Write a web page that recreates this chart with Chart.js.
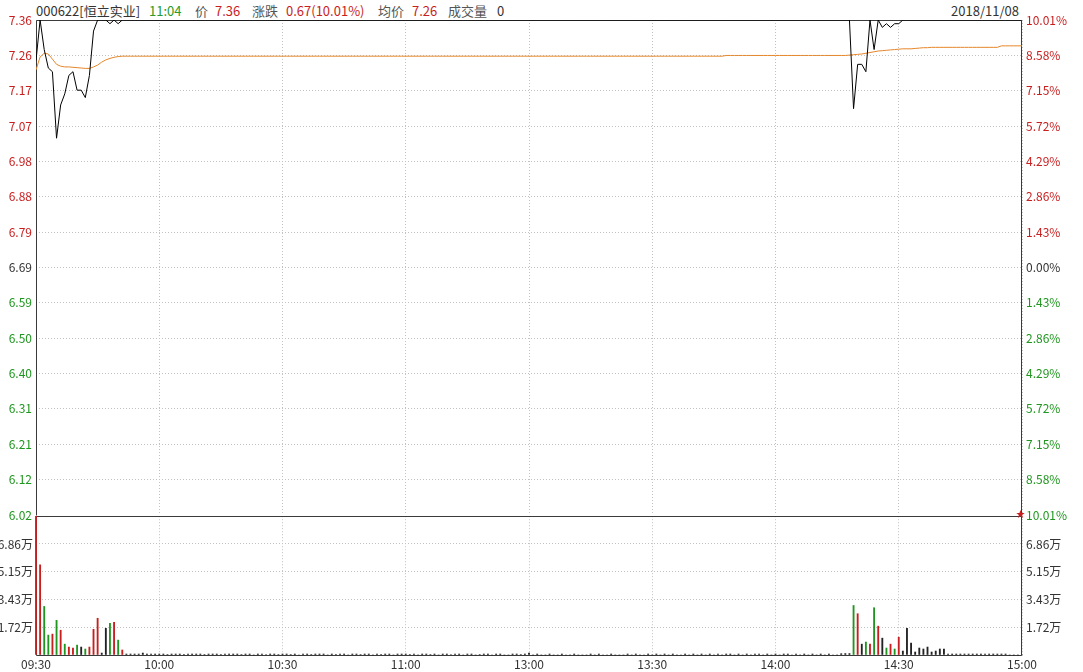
<!DOCTYPE html>
<html><head><meta charset="utf-8">
<script src="https://cdn.jsdelivr.net/npm/chart.js@4.4.1/dist/chart.umd.min.js"></script>
<style>
html,body{margin:0;padding:0;background:#fff;width:1083px;height:672px;overflow:hidden;position:relative;font-family:'Noto Sans CJK SC','Noto Sans',sans-serif;}
#c1{position:absolute;left:0;top:0;}
#c2{position:absolute;left:0;top:505px;}
.h{position:absolute;top:2px;font-size:13px;line-height:17px;white-space:nowrap;}
.star{position:absolute;left:1016px;top:508px;font-size:9px;line-height:12px;color:#c81e1e;}
</style></head><body>
<div class="h" style="left:36px;color:#333">000622[恒立实业]</div>
<div class="h" style="left:149px;color:#2a9a2a">11:04</div>
<div class="h" style="left:195px;color:#555">价</div>
<div class="h" style="left:215px;color:#c81e1e">7.36</div>
<div class="h" style="left:252px;color:#555">涨跌</div>
<div class="h" style="left:286px;color:#c81e1e">0.67(10.01%)</div>
<div class="h" style="left:378px;color:#555">均价</div>
<div class="h" style="left:412px;color:#c81e1e">7.26</div>
<div class="h" style="left:448px;color:#555">成交量</div>
<div class="h" style="left:497px;color:#333">0</div>
<div class="h" style="right:64px;color:#333">2018/11/08</div>
<canvas id="c1" width="1083" height="530"></canvas>
<canvas id="c2" width="1083" height="167"></canvas>
<div class="star">★</div>
<script>
const timeLabels = ['09:30','10:00','10:30','11:00','13:00','13:30','14:00','14:30','15:00'];
const priceLabels = ['7.36','7.26','7.17','7.07','6.98','6.88','6.79','6.69','6.59','6.50','6.40','6.31','6.21','6.12','6.02'];
const pctLabels = ['10.01%','8.58%','7.15%','5.72%','4.29%','2.86%','1.43%','0.00%','1.43%','2.86%','4.29%','5.72%','7.15%','8.58%','10.01%'];
const volLabels = ['1.72万','3.43万','5.15万','6.86万'];
const limitUp = 7.36, limitDown = 6.02, volMax = 85750;

const price = [
7.25,7.36,7.28,7.23,7.22,7.04,7.13,7.16,7.21,7.22,
7.17,7.17,7.15,7.21,7.33,7.36,7.36,7.36,7.35,7.36,
7.35,7.36,7.36,7.36,7.36,7.36,7.36,7.36,7.36,7.36,
7.36,7.36,7.36,7.36,7.36,7.36,7.36,7.36,7.36,7.36,
7.36,7.36,7.36,7.36,7.36,7.36,7.36,7.36,7.36,7.36,
7.36,7.36,7.36,7.36,7.36,7.36,7.36,7.36,7.36,7.36,
7.36,7.36,7.36,7.36,7.36,7.36,7.36,7.36,7.36,7.36,
7.36,7.36,7.36,7.36,7.36,7.36,7.36,7.36,7.36,7.36,
7.36,7.36,7.36,7.36,7.36,7.36,7.36,7.36,7.36,7.36,
7.36,7.36,7.36,7.36,7.36,7.36,7.36,7.36,7.36,7.36,
7.36,7.36,7.36,7.36,7.36,7.36,7.36,7.36,7.36,7.36,
7.36,7.36,7.36,7.36,7.36,7.36,7.36,7.36,7.36,7.36,
7.36,7.36,7.36,7.36,7.36,7.36,7.36,7.36,7.36,7.36,
7.36,7.36,7.36,7.36,7.36,7.36,7.36,7.36,7.36,7.36,
7.36,7.36,7.36,7.36,7.36,7.36,7.36,7.36,7.36,7.36,
7.36,7.36,7.36,7.36,7.36,7.36,7.36,7.36,7.36,7.36,
7.36,7.36,7.36,7.36,7.36,7.36,7.36,7.36,7.36,7.36,
7.36,7.36,7.36,7.36,7.36,7.36,7.36,7.36,7.36,7.36,
7.36,7.36,7.36,7.36,7.36,7.36,7.36,7.36,7.36,7.36,
7.36,7.36,7.36,7.36,7.36,7.36,7.36,7.36,7.36,7.12,
7.24,7.24,7.22,7.36,7.28,7.36,7.34,7.35,7.34,7.35,
7.35,7.36,7.36,7.36,7.36,7.36,7.36,7.36,7.36,7.36,
7.36,7.36,7.36,7.36,7.36,7.36,7.36,7.36,7.36,7.36,
7.36,7.36,7.36,7.36,7.36,7.36,7.36,7.36,7.36,7.36,
7.36
];

const avgPrice = [
7.225,7.260,7.270,7.268,7.254,7.240,7.235,7.233,7.233,7.232,
7.231,7.230,7.229,7.229,7.233,7.238,7.246,7.252,7.256,7.259,
7.261,7.262,7.262,7.262,7.262,7.262,7.262,7.262,7.262,7.262,
7.262,7.262,7.262,7.262,7.262,7.262,7.262,7.262,7.262,7.262,
7.262,7.262,7.262,7.262,7.262,7.262,7.262,7.262,7.262,7.262,
7.262,7.262,7.262,7.262,7.262,7.262,7.262,7.262,7.262,7.262,
7.262,7.262,7.262,7.262,7.262,7.262,7.262,7.262,7.262,7.262,
7.262,7.262,7.262,7.262,7.262,7.262,7.262,7.262,7.262,7.262,
7.262,7.262,7.262,7.262,7.262,7.262,7.262,7.262,7.262,7.262,
7.262,7.262,7.262,7.262,7.262,7.262,7.262,7.262,7.262,7.262,
7.262,7.262,7.262,7.262,7.262,7.262,7.262,7.262,7.262,7.262,
7.262,7.262,7.262,7.262,7.262,7.262,7.262,7.262,7.262,7.262,
7.262,7.262,7.262,7.262,7.262,7.262,7.262,7.262,7.262,7.262,
7.262,7.262,7.262,7.262,7.262,7.262,7.262,7.262,7.262,7.262,
7.262,7.262,7.262,7.262,7.262,7.262,7.262,7.262,7.262,7.262,
7.262,7.262,7.262,7.262,7.262,7.262,7.262,7.262,7.262,7.262,
7.262,7.262,7.262,7.262,7.262,7.262,7.262,7.262,7.264,7.264,
7.264,7.264,7.264,7.264,7.264,7.264,7.264,7.264,7.264,7.264,
7.264,7.264,7.264,7.264,7.264,7.264,7.264,7.264,7.264,7.264,
7.264,7.264,7.264,7.264,7.264,7.264,7.264,7.264,7.265,7.266,
7.267,7.268,7.270,7.272,7.274,7.276,7.277,7.278,7.279,7.280,
7.281,7.282,7.282,7.282,7.283,7.284,7.285,7.285,7.286,7.286,
7.286,7.286,7.286,7.286,7.286,7.286,7.286,7.286,7.286,7.286,
7.286,7.286,7.286,7.286,7.286,7.290,7.290,7.290,7.290,7.290,
7.290
];

const volume = [
85700,55700,30000,12300,12900,21400,15300,6700,4900,4300,
6100,4900,3700,4900,15900,22700,1200,16500,19600,20200,
9200,3100,600,600,600,600,1200,600,600,600,
600,600,300,600,600,600,300,600,600,600,
600,300,600,600,600,300,600,600,600,600,
300,600,600,0,600,600,300,600,600,300,
600,600,300,600,0,600,600,300,600,600,
600,0,600,300,600,600,0,600,600,300,
600,600,0,600,300,600,600,0,600,600,
600,300,600,0,600,600,300,600,0,600,
600,300,600,600,0,600,600,0,300,600,
600,0,600,600,0,0,600,600,300,600,
1200,0,600,0,0,600,0,0,600,0,
0,600,0,0,0,600,0,600,0,0,
600,0,0,0,600,0,600,0,0,600,
0,600,0,600,0,600,0,0,600,0,
600,0,600,0,600,0,600,0,600,600,
0,600,0,600,0,600,600,0,600,0,
600,0,600,600,0,600,0,600,0,600,
0,600,0,600,0,0,800,900,900,30600,
25500,6700,8000,6700,29200,17800,10400,4300,6700,3700,
11000,2450,16500,7350,1850,4300,3700,4900,1850,2450,
3700,3700,600,600,600,600,600,600,600,600,
600,600,600,600,600,600,600,0,0,0,
0
];
const volUp = [0,1,4,6,8,9,13,14,15,19,21,200,203,205,208,210];
const volDown = [2,3,5,7,10,12,18,20,199,202,204,207,209];

const FONT = {family:"'Noto Sans CJK SC','Noto Sans',sans-serif", size:12};
const RED = '#c81e1e', GREEN = '#1f961f', DARK = '#333333', GRID = '#c2c2c2';
const nT = priceLabels.length;
const mid = (nT - 1) / 2;
const tickVals = priceLabels.map((_, i) => limitDown + (limitUp - limitDown) * i / (nT - 1));
const tickColor = i => { const k = nT - 1 - i; return k < mid ? RED : (k === mid ? DARK : GREEN); };

function makeFrame(drawBottom){
  return {id:'frame', beforeDatasetsDraw(c){
    const a = c.chartArea, ctx = c.ctx;
    const l = Math.round(a.left)+0.5, r = Math.round(a.right)-0.5, t = Math.round(a.top)+0.5, b = Math.round(a.bottom)+0.5;
    ctx.save(); ctx.strokeStyle = '#3a3a3a'; ctx.lineWidth = 1;
    ctx.beginPath();
    if (drawBottom) { ctx.moveTo(l, b); ctx.lineTo(l, t); ctx.lineTo(r, t); ctx.lineTo(r, b); ctx.closePath(); }
    else { ctx.moveTo(l, b); ctx.lineTo(l, t); ctx.lineTo(r, t); ctx.lineTo(r, b); }
    ctx.stroke();
    ctx.restore();
  }};
}

function xScale(show){
  return {type:'linear', min:0, max:240, offset:false,
    afterBuildTicks:s => { s.ticks = timeLabels.map((t,i) => ({value:i*30})); },
    ticks:{display:show, autoSkip:false, maxRotation:0, padding:2, color:DARK, font:FONT, callback:(v,i) => timeLabels[i]},
    grid:{color:GRID, drawTicks:false, offset:false}, border:{display:false, dash:[1,2]},
    afterFit:s => { s.height = show ? 17 : 0; }};
}

const xy = arr => arr.map((v,i) => ({x:i, y:v}));

new Chart(document.getElementById('c1'), {
  type:'line',
  data:{datasets:[
    {data:xy(price), borderColor:'#000', borderWidth:1, pointRadius:0, tension:0, yAxisID:'y'},
    {data:xy(avgPrice), borderColor:'#e5862a', borderWidth:1, pointRadius:0, tension:0, yAxisID:'y'}
  ]},
  options:{responsive:false, animation:false, events:[],
    layout:{padding:{top:20, bottom:15, left:0, right:0}},
    plugins:{legend:{display:false}, tooltip:{enabled:false}},
    scales:{
      x:xScale(false),
      y:{type:'linear', position:'left', min:limitDown, max:limitUp,
        afterBuildTicks:s => { s.ticks = tickVals.map(v => ({value:v})); },
        ticks:{autoSkip:false, padding:4, font:FONT, color:c => tickColor(c.index), callback:(v,i) => priceLabels[nT-1-i]},
        grid:{color:c => (c.index === 0 ? 'rgba(0,0,0,0)' : GRID), drawTicks:false}, border:{display:false, dash:[1,2]},
        afterFit:s => { s.width = 36; }},
      yr:{type:'linear', position:'right', min:limitDown, max:limitUp,
        afterBuildTicks:s => { s.ticks = tickVals.map(v => ({value:v})); },
        ticks:{autoSkip:false, padding:4, font:FONT, color:c => tickColor(c.index), callback:(v,i) => pctLabels[nT-1-i]},
        grid:{drawOnChartArea:false, drawTicks:false}, border:{display:false},
        afterFit:s => { s.width = 61; }}
    }},
  plugins:[makeFrame(false)]
});

const volColors = volume.map((v,i) => volUp.includes(i) ? RED : (volDown.includes(i) ? GREEN : '#222'));
const volTick = (v,i) => (i >= 1 && i <= volLabels.length) ? volLabels[i-1] : '';
const volTickVals = [0,1,2,3,4,5].map(k => volMax * k / 5);

new Chart(document.getElementById('c2'), {
  type:'bar',
  data:{datasets:[{data:xy(volume), backgroundColor:volColors, barThickness:1.2, borderWidth:0, clip:false, yAxisID:'y'}]},
  options:{responsive:false, animation:false, events:[],
    layout:{padding:{top:10, bottom:0, left:0, right:0}},
    plugins:{legend:{display:false}, tooltip:{enabled:false}},
    scales:{
      x:xScale(true),
      y:{type:'linear', position:'left', min:0, max:volMax,
        afterBuildTicks:s => { s.ticks = volTickVals.map(v => ({value:v})); },
        ticks:{autoSkip:false, padding:3, font:FONT, color:DARK, callback:volTick},
        grid:{color:c => ((c.index === 0 || c.index === 5) ? 'rgba(0,0,0,0)' : GRID), drawTicks:false}, border:{display:false, dash:[1,2]},
        afterFit:s => { s.width = 36; }},
      yr:{type:'linear', position:'right', min:0, max:volMax,
        afterBuildTicks:s => { s.ticks = volTickVals.map(v => ({value:v})); },
        ticks:{autoSkip:false, padding:4, font:FONT, color:DARK, callback:volTick},
        grid:{drawOnChartArea:false, drawTicks:false}, border:{display:false},
        afterFit:s => { s.width = 61; }}
    }},
  plugins:[makeFrame(true)]
});
</script>
</body></html>
